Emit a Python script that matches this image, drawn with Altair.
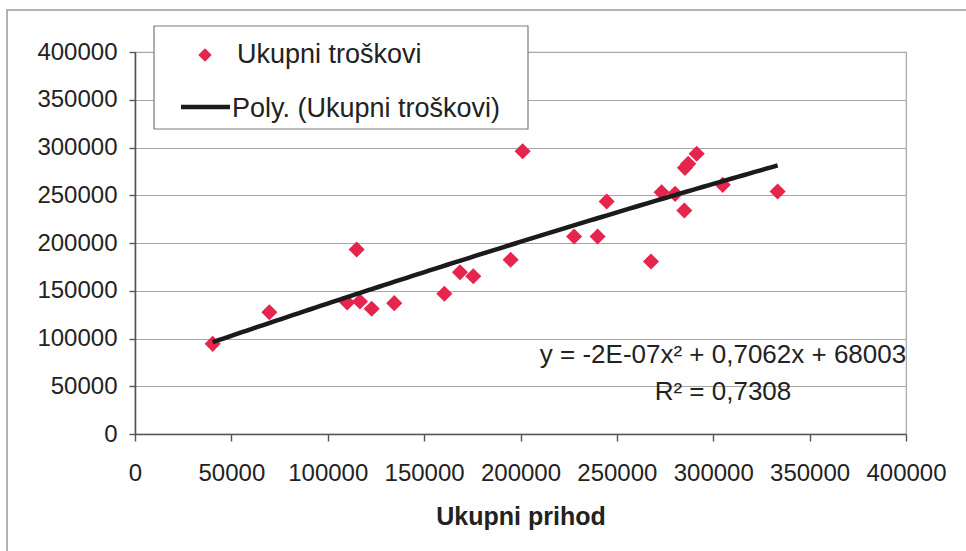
import altair as alt
import numpy as np
import pandas as pd

# Ukupni prihod (x) i ukupni troškovi (y)
prihod = [40300, 69700, 110100, 115000, 116700, 122800, 134500, 160500,
          168600, 175500, 194900, 201100, 227800, 240000, 244700, 267700,
          273200, 280200, 285000, 285300, 287000, 291400, 304900, 333400]
troskovi = [94400, 127500, 137700, 193200, 138700, 131100, 137000, 146800,
            169400, 165200, 182400, 296100, 206800, 206800, 243400, 180600,
            253200, 251500, 234000, 278700, 282900, 293400, 260900, 253900]

# Polinomni trend drugog reda
A2, A1, A0 = -2e-07, 0.7062, 68003
R2 = 0.7308
eq_line = "y = -2E-07x² + 0,7062x + 68003"
r2_line = "R² = 0,7308"

series_name = "Ukupni troškovi"
trend_name = "Poly. (Ukupni troškovi)"
axis_x_title = "Ukupni prihod"
ticks = list(range(0, 400001, 50000))

FONT = "Liberation Sans"
RED = "#e5254d"
GRID = "#a6a6a6"
AXIS = "#555555"

W, H = 771, 382
PAD = {"left": 135, "top": 52, "right": 966 - 135 - W, "bottom": 551 - 52 - H}

pts = pd.DataFrame({"prihod": prihod, "troskovi": troskovi})
xs = np.linspace(min(prihod), max(prihod), 100)
trend = pd.DataFrame({"prihod": xs, "troskovi": A2 * xs ** 2 + A1 * xs + A0})
one = pd.DataFrame({"k": [0]})

x_enc = alt.X("prihod:Q",
              scale=alt.Scale(domain=[0, 400000], nice=False),
              axis=alt.Axis(values=ticks, format="d", title=axis_x_title,
                            grid=False, tickSize=7, labelPadding=20,
                            labelOverlap=False, labelFlush=False, labelBound=False,
                            titleY=90, titleBaseline="alphabetic",
                            titleFontSize=25, titleFontWeight="bold"))
y_enc = alt.Y("troskovi:Q",
              scale=alt.Scale(domain=[0, 400000], nice=False),
              axis=alt.Axis(values=ticks, format="d", title=None,
                            labelOverlap=False, labelFlush=False,
                            grid=True, tickSize=6, labelPadding=12))

points = alt.Chart(pts).mark_point(
    shape="diamond", filled=True, size=260, color=RED, opacity=1
).encode(x=x_enc, y=y_enc)

line = alt.Chart(trend).mark_line(
    color="#1b1b1b", strokeWidth=4.5
).encode(x="prihod:Q", y="troskovi:Q")

# Okvir cijele slike
frame = alt.Chart(one).mark_rect(fill=None, stroke="#9a9a9a", strokeWidth=1.5).encode(
    x=alt.value(7 - PAD["left"]), x2=alt.value(1200),
    y=alt.value(10 - PAD["top"]), y2=alt.value(900))

# Legenda
leg_box = alt.Chart(one).mark_rect(fill="white", stroke="#7a7a7a", strokeWidth=1.2).encode(
    x=alt.value(19), x2=alt.value(393), y=alt.value(-26), y2=alt.value(77))
leg_sym = alt.Chart(one).mark_point(
    shape="diamond", filled=True, size=180, color=RED, opacity=1
).encode(x=alt.value(70), y=alt.value(3))
leg_rule = alt.Chart(one).mark_rule(color="#1b1b1b", strokeWidth=4.5).encode(
    x=alt.value(46), x2=alt.value(95), y=alt.value(55))
leg_t1 = alt.Chart(one).mark_text(
    text=series_name, font=FONT, fontSize=27, align="left", baseline="alphabetic", color="#222"
).encode(x=alt.value(102), y=alt.value(11))
leg_t2 = alt.Chart(one).mark_text(
    text=trend_name, font=FONT, fontSize=27, align="left", baseline="alphabetic", color="#222"
).encode(x=alt.value(97), y=alt.value(65))

# Jednadžba trenda
eq1 = alt.Chart(one).mark_text(
    text=eq_line, font=FONT, fontSize=26, align="center", baseline="alphabetic", color="#222"
).encode(x=alt.value(588), y=alt.value(311))
eq2 = alt.Chart(one).mark_text(
    text=r2_line, font=FONT, fontSize=26, align="center", baseline="alphabetic", color="#222"
).encode(x=alt.value(588), y=alt.value(348))

chart = alt.layer(
    frame, points, line, leg_box, leg_sym, leg_rule, leg_t1, leg_t2, eq1, eq2
).properties(
    width=W, height=H,
    autosize=alt.AutoSizeParams(type="none"),
    padding=PAD,
    background="white",
).configure_view(
    stroke=GRID, strokeWidth=1.2
).configure_axis(
    labelFont=FONT, labelFontSize=24, labelColor="#222",
    titleFont=FONT, titleColor="#222",
    domainColor=AXIS, domainWidth=1.6, tickColor=AXIS, tickWidth=1.4,
    gridColor=GRID, gridWidth=1.2,
)

chart.save("out.html", embed_options={"renderer": "svg", "actions": False})
